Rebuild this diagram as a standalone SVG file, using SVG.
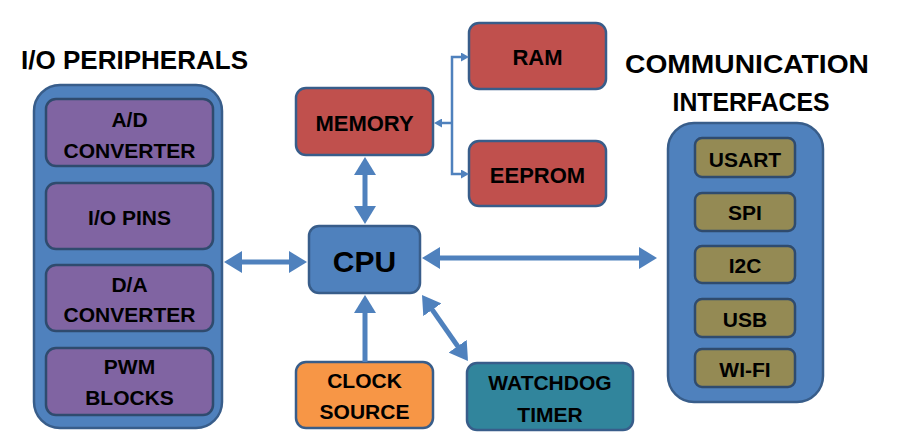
<svg xmlns="http://www.w3.org/2000/svg" width="900" height="442" viewBox="0 0 900 442">
<style>
text{font-family:"Liberation Sans",Arial,sans-serif;font-weight:bold;fill:#000;text-anchor:middle}
.h{font-size:26px}
.t{font-size:21px}
.m{font-size:22px}
.container{fill:#4F81BD;stroke:#385D8A;stroke-width:2.5}
.purple{fill:#8064A2;stroke:#2F4B6E;stroke-width:2.5}
.olive{fill:#948A54;stroke:#2F4B6E;stroke-width:2.5}
.red{fill:#C0504D;stroke:#385D8A;stroke-width:2.5}
.orange{fill:#F79646;stroke:#385D8A;stroke-width:2.5}
.teal{fill:#31859C;stroke:#385D8A;stroke-width:2.5}
.cpu{fill:#4F81BD;stroke:#385D8A;stroke-width:2.5}
.thick{stroke:#4F81BD;stroke-width:5;fill:none}
.thin{stroke:#4F81BD;stroke-width:2.5;fill:none}
</style>
<defs>
<marker id="big" viewBox="0 0 18 22" markerWidth="18" markerHeight="22" refX="10" refY="11" markerUnits="userSpaceOnUse" orient="auto-start-reverse">
<path d="M0,0 L18,11 L0,22 z" fill="#4F81BD"/>
</marker>
<marker id="small" viewBox="0 0 8 9" markerWidth="8" markerHeight="9" refX="4" refY="4.5" markerUnits="userSpaceOnUse" orient="auto-start-reverse">
<path d="M0,0 L8,4.5 L0,9 z" fill="#4F81BD"/>
</marker>
</defs>

<text class="h" x="134.5" y="69" textLength="227" lengthAdjust="spacingAndGlyphs">I/O PERIPHERALS</text>
<text class="h" x="747" y="73" textLength="244" lengthAdjust="spacingAndGlyphs">COMMUNICATION</text>
<text class="h" x="751" y="111" textLength="157" lengthAdjust="spacingAndGlyphs">INTERFACES</text>

<g id="io-peripherals">
<rect class="container" x="34" y="85" width="188" height="343" rx="26"/>
<g id="ad-converter"><rect class="purple" x="46" y="99" width="167" height="67" rx="10"/>
<text class="t" x="129.5" y="127">A/D</text><text class="t" x="129.5" y="158">CONVERTER</text></g>
<g id="io-pins"><rect class="purple" x="46" y="183" width="167" height="66" rx="10"/>
<text class="t" x="129.5" y="225">I/O PINS</text></g>
<g id="da-converter"><rect class="purple" x="46" y="265" width="167" height="66" rx="10"/>
<text class="t" x="129.5" y="292">D/A</text><text class="t" x="129.5" y="322">CONVERTER</text></g>
<g id="pwm-blocks"><rect class="purple" x="46" y="348" width="167" height="67" rx="10"/>
<text class="t" x="129.5" y="374">PWM</text><text class="t" x="129.5" y="405">BLOCKS</text></g>
</g>

<g id="memory"><rect class="red" x="296" y="88" width="137" height="67" rx="10"/>
<text class="m" x="364.5" y="131">MEMORY</text></g>
<g id="ram"><rect class="red" x="469" y="23" width="137" height="66" rx="10"/>
<text class="m" x="537.5" y="65">RAM</text></g>
<g id="eeprom"><rect class="red" x="469" y="141" width="137" height="65" rx="10"/>
<text class="m" x="537.5" y="183">EEPROM</text></g>

<g id="cpu"><rect class="cpu" x="309" y="226" width="111" height="67" rx="10"/>
<text x="364.5" y="272" style="font-size:30px">CPU</text></g>

<g id="clock-source"><rect class="orange" x="296" y="362" width="137" height="66" rx="10"/>
<text class="t" x="364.5" y="388">CLOCK</text><text class="t" x="364.5" y="419">SOURCE</text></g>

<g id="watchdog-timer"><rect class="teal" x="467" y="363" width="166" height="67" rx="10"/>
<text class="t" x="550" y="390">WATCHDOG</text><text class="t" x="550" y="422">TIMER</text></g>

<g id="communication-interfaces">
<rect class="container" x="668" y="123" width="155" height="279" rx="26"/>
<g id="usart"><rect class="olive" x="695" y="138" width="100" height="39" rx="7"/><text class="t" x="745" y="167">USART</text></g>
<g id="spi"><rect class="olive" x="695" y="193" width="100" height="38" rx="7"/><text class="t" x="745" y="220">SPI</text></g>
<g id="i2c"><rect class="olive" x="695" y="246" width="100" height="37" rx="7"/><text class="t" x="745" y="273">I2C</text></g>
<g id="usb"><rect class="olive" x="695" y="299" width="100" height="38" rx="7"/><text class="t" x="745" y="327">USB</text></g>
<g id="wifi"><rect class="olive" x="695" y="349" width="100" height="38" rx="7"/><text class="t" x="745" y="377">WI-FI</text></g>
</g>

<g id="connectors">
<line class="thick" x1="232" y1="262" x2="299" y2="262" marker-start="url(#big)" marker-end="url(#big)"/>
<line class="thick" x1="365" y1="165" x2="365" y2="216" marker-start="url(#big)" marker-end="url(#big)"/>
<line class="thick" x1="365" y1="362" x2="365" y2="303" marker-end="url(#big)"/>
<line class="thick" x1="430" y1="258" x2="649" y2="258" marker-start="url(#big)" marker-end="url(#big)"/>
<line class="thick" x1="426.6" y1="301.6" x2="463.4" y2="354.4" marker-start="url(#big)" marker-end="url(#big)"/>
<path class="thin" d="M465,57 H452 V174 H465" marker-start="url(#small)" marker-end="url(#small)"/>
<line class="thin" x1="452" y1="123" x2="438" y2="123" marker-end="url(#small)"/>
</g>
</svg>
